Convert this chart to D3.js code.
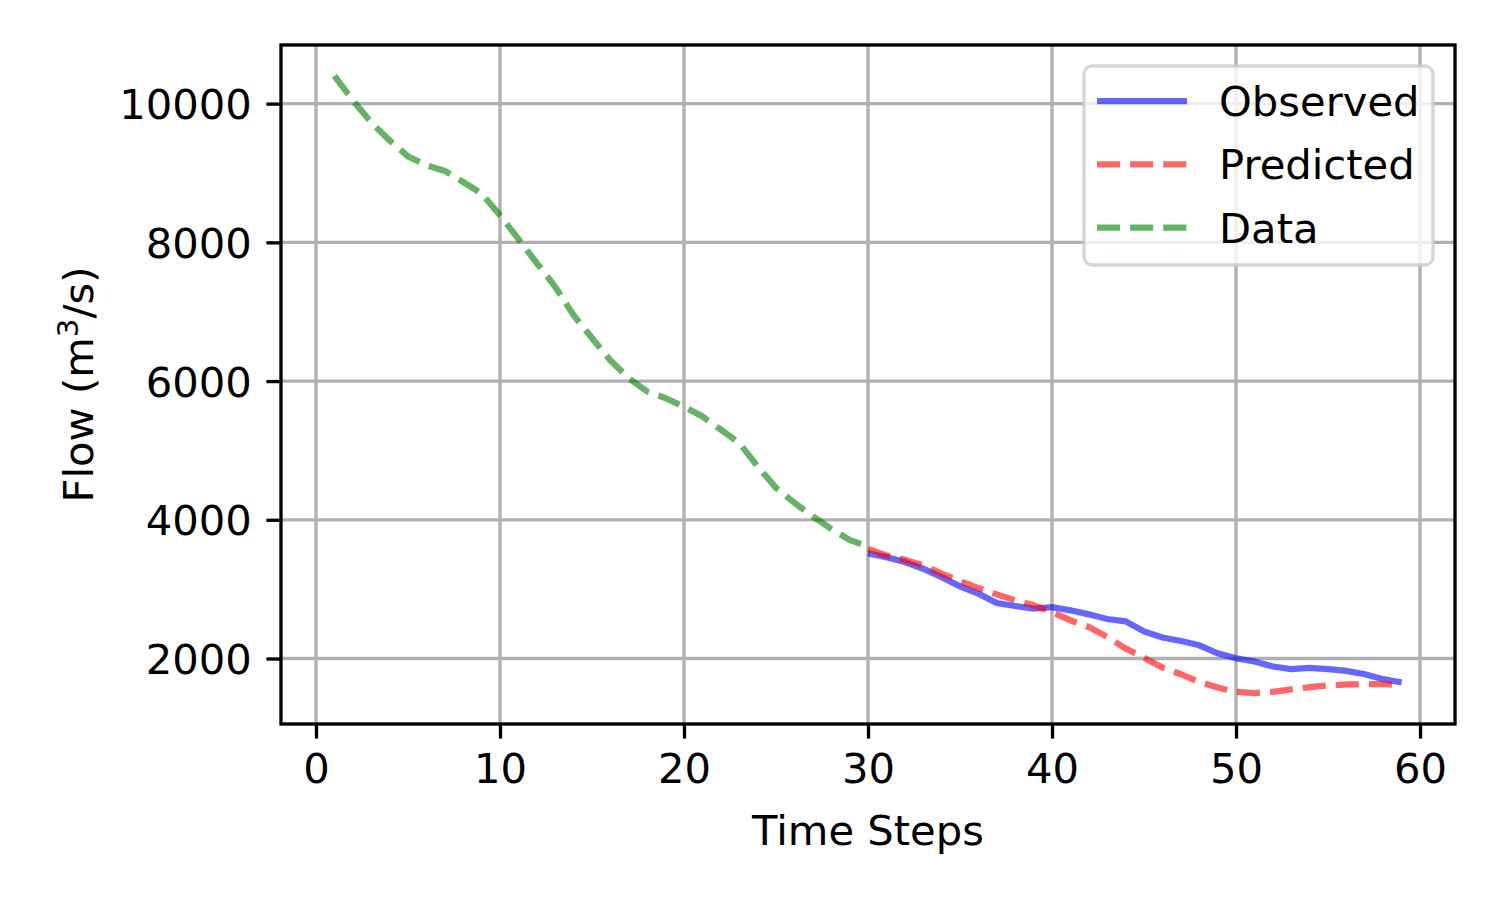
<!DOCTYPE html>
<html>
<head>
<meta charset="utf-8">
<script src="https://cdn.jsdelivr.net/npm/d3@7"></script>
<style>
  body { margin: 0; background: #fff; }
  svg text { font-family: "DejaVu Sans", sans-serif; fill: #000; }
</style>
</head>
<body>
<div id="chart"></div>
<script>
// data
var dataSteps = d3.range(1, 31);
var dataFlow = [10400, 10050, 9730, 9470, 9240, 9110, 9030, 8870, 8705, 8390,
                8050, 7700, 7360, 6950, 6620, 6300, 6040, 5850, 5755, 5630,
                5490, 5300, 5110, 4770, 4460, 4245, 4050, 3870, 3710, 3616];
var obsSteps = d3.range(30, 60);
var obsFlow = [3515, 3462, 3390, 3295, 3174, 3040, 2935, 2800, 2757, 2719,
               2742, 2695, 2637, 2570, 2537, 2390, 2302, 2253, 2191, 2076,
               2004, 1957, 1885, 1846, 1865, 1846, 1822, 1774, 1702, 1655];
var predSteps = d3.range(30, 60);
var predFlow = [3580, 3486, 3424, 3342, 3223, 3117, 3016, 2925, 2839, 2767,
                2670, 2551, 2455, 2311, 2144, 2010, 1870, 1774, 1663, 1583,
                1520, 1501, 1520, 1554, 1587, 1612, 1626, 1630, 1630, 1615];
var xTicks = [0, 10, 20, 30, 40, 50, 60];
var yTicks = [2000, 4000, 6000, 8000, 10000];

var width = 1500, height = 900,
    plotL = 281, plotR = 1455, plotT = 45, plotB = 724,
    fs = 41.7,
    lw = 6.25,
    thin = 3.33,
    tickLen = 14.6;

var svg = d3.select('#chart').append('svg')
    .attr('width', width)
    .attr('height', height);

var xPad = (59 - 1) * 0.05,
    allY = dataFlow.concat(obsFlow, predFlow),
    yMin = d3.min(allY), yMax = d3.max(allY),
    yPad = (yMax - yMin) * 0.05;

var x = d3.scaleLinear().domain([1 - xPad, 59 + xPad]).range([plotL, plotR]);
var y = d3.scaleLinear().domain([yMin - yPad, yMax + yPad]).range([plotB, plotT]);

// grid
var grid = svg.append('g');
grid.selectAll('line.gx').data(xTicks).enter().append('line')
    .attr('x1', function (d) { return x(d); }).attr('x2', function (d) { return x(d); })
    .attr('y1', plotT).attr('y2', plotB)
    .attr('stroke', '#b0b0b0').attr('stroke-width', thin);
grid.selectAll('line.gy').data(yTicks).enter().append('line')
    .attr('y1', function (d) { return y(d); }).attr('y2', function (d) { return y(d); })
    .attr('x1', plotL).attr('x2', plotR)
    .attr('stroke', '#b0b0b0').attr('stroke-width', thin);

var line = d3.line()
    .x(function (d) { return x(d[0]); })
    .y(function (d) { return y(d[1]); });

var series = [
    { name: 'Observed', xs: obsSteps, ys: obsFlow, color: 'blue', dash: null },
    { name: 'Predicted', xs: predSteps, ys: predFlow, color: 'red', dash: '23.1,10' },
    { name: 'Data', xs: dataSteps, ys: dataFlow, color: 'green', dash: '23.1,10' }
];

// draw in matplotlib plot order: data, observed, predicted
[series[2], series[0], series[1]].forEach(function (s) {
    svg.append('path')
        .datum(d3.zip(s.xs, s.ys))
        .attr('d', line)
        .attr('fill', 'none')
        .attr('stroke', s.color)
        .attr('stroke-opacity', 0.6)
        .attr('stroke-width', lw)
        .attr('stroke-dasharray', s.dash)
        .attr('stroke-linecap', 'butt');
});

// spines
svg.append('rect')
    .attr('x', plotL).attr('y', plotT)
    .attr('width', plotR - plotL).attr('height', plotB - plotT)
    .attr('fill', 'none').attr('stroke', '#000').attr('stroke-width', thin);

// axes
var xAxis = svg.append('g')
    .attr('transform', 'translate(0,' + plotB + ')')
    .call(d3.axisBottom(x).tickValues(xTicks).tickSize(tickLen).tickPadding(14.6).tickFormat(d3.format('d')));
var yAxis = svg.append('g')
    .attr('transform', 'translate(' + plotL + ',0)')
    .call(d3.axisLeft(y).tickValues(yTicks).tickSize(tickLen).tickPadding(14.6).tickFormat(d3.format('d')));
[xAxis, yAxis].forEach(function (a) {
    a.select('.domain').remove();
    a.selectAll('line').attr('stroke', '#000').attr('stroke-width', thin);
    a.selectAll('text').style('font-size', fs + 'px').attr('font-family', null);
});
yAxis.selectAll('text').attr('dy', '0.36em');

// axis labels
svg.append('text')
    .attr('x', (plotL + plotR) / 2).attr('y', 845)
    .attr('text-anchor', 'middle')
    .style('font-size', fs + 'px')
    .text('Time Steps');

var ylab = svg.append('text')
    .attr('transform', 'translate(93,' + (plotT + plotB) / 2 + ') rotate(-90)')
    .attr('text-anchor', 'middle')
    .style('font-size', fs + 'px');
ylab.append('tspan').text('Flow (m');
ylab.append('tspan').attr('dy', -15).style('font-size', (fs * 0.7) + 'px').text('3');
ylab.append('tspan').attr('dy', 15).text('/s)');

// legend
var lg = svg.append('g');
lg.append('rect')
    .attr('x', 1084).attr('y', 66)
    .attr('width', 349).attr('height', 199)
    .attr('rx', 8).attr('ry', 8)
    .attr('fill', '#fff').attr('fill-opacity', 0.8)
    .attr('stroke', '#cccccc').attr('stroke-opacity', 0.8).attr('stroke-width', thin);

series.forEach(function (s, i) {
    var cy = 101 + i * 63.3;
    lg.append('line')
        .attr('x1', 1097).attr('x2', 1187)
        .attr('y1', cy).attr('y2', cy)
        .attr('stroke', s.color).attr('stroke-opacity', 0.6)
        .attr('stroke-width', lw)
        .attr('stroke-dasharray', s.dash);
    lg.append('text')
        .attr('x', 1219).attr('y', cy)
        .attr('dy', '0.36em')
        .style('font-size', fs + 'px')
        .text(s.name);
});
</script>
</body>
</html>
